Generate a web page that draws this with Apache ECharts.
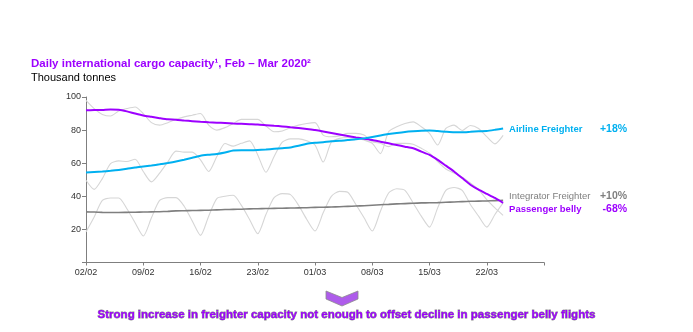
<!DOCTYPE html>
<html>
<head>
<meta charset="utf-8">
<script src="https://cdn.jsdelivr.net/npm/echarts@6/dist/echarts.min.js"></script>
<style>
html, body { margin: 0; padding: 0; background: #fff; }
#chart { width: 693px; height: 332px; }
</style>
</head>
<body>
<div id="chart"></div>
<script>
// Daily categories, 02/02 to 29/03 (axis runs one week past the last data point)
const dates = [
  '02/02','03/02','04/02','05/02','06/02','07/02','08/02',
  '09/02','10/02','11/02','12/02','13/02','14/02','15/02',
  '16/02','17/02','18/02','19/02','20/02','21/02','22/02',
  '23/02','24/02','25/02','26/02','27/02','28/02','29/02',
  '01/03','02/03','03/03','04/03','05/03','06/03','07/03',
  '08/03','09/03','10/03','11/03','12/03','13/03','14/03',
  '15/03','16/03','17/03','18/03','19/03','20/03','21/03',
  '22/03','23/03','24/03','25/03','26/03','27/03','28/03',
  '29/03'
];

// Thousand tonnes per day
const passengerDaily = [
  98, 93, 89.5, 88.5, 91.5, 93, 94,
  90, 84.5, 83, 84.5, 86.5, 88, 89,
  90, 83, 80, 81.5, 84, 86.5, 86.5,
  86.5, 82.5, 79, 79.5, 81.5, 83, 84,
  84.5, 77, 76, 76.5, 78, 78, 77,
  73, 72, 70, 72, 72, 71.5, 69,
  66, 61, 56.5, 54, 51.5, 48, 44,
  38, 33, 28.5
];
const passengerAvg = [
  92, 92.1, 92.2, 92.5, 92.3, 91.3, 90,
  88.8, 88, 87.2, 86.5, 86.3, 85.8, 85.4,
  85, 84.7, 84.5, 84.3, 84, 83.8, 83.6,
  83.4, 83, 82.6, 82.2, 81.7, 81.2, 80.6,
  80, 79.2, 78.3, 77.4, 76.5, 75.6, 74.8,
  74, 73, 72, 71, 70, 69, 67,
  65, 62, 58.5, 55, 51, 47, 44,
  41.5, 39, 36
];
const airlineDaily = [
  49.7, 44.2, 50.7, 59.8, 61.4, 61, 62.4,
  55, 48.7, 54, 60.8, 67.3, 66.7, 66.7,
  62, 55, 64, 71.9, 70.3, 72, 73.5,
  65, 54.5, 64, 72.7, 74.7, 74.7, 73.5,
  71, 60.7, 72.7, 75, 75.5, 75, 74,
  72, 65.8, 79, 82, 84, 85, 82,
  78, 71, 81, 83, 79.8, 82.8, 81,
  76, 71.7, 76.8
];
const airlineAvg = [
  54.4, 54.7, 55, 55.4, 55.9, 56.6, 57.4,
  58, 58.6, 59.3, 60.1, 61, 62.1, 63.3,
  64.5, 65.1, 65.6, 66.5, 67.7, 67.9, 67.9,
  68, 68.3, 68.7, 69.1, 69.5, 70.5, 71.7,
  72.3, 72.7, 73.2, 73.5, 74, 74.4, 75,
  75.8, 76.8, 77.6, 78.3, 78.9, 79.3, 79.6,
  79.7, 79.4, 79, 78.7, 78.7, 79, 79.3,
  79.5, 80.2, 81
];
const integratorDaily = [
  18.5, 27.5, 37.5, 39, 39, 32.5, 24,
  16, 27, 37.5, 39.2, 39.2, 34, 25,
  16.4, 28, 38.6, 40, 40.6, 34.5, 26,
  17.4, 29, 39.2, 41.6, 41, 34.5, 26,
  19, 30, 40, 43, 42.4, 35, 27,
  19, 31, 42, 44.6, 43.6, 36, 28,
  21.4, 33, 43.6, 45.3, 43.6, 35, 28,
  21.4, 29, 36
];
const integratorAvg = [
  30.6, 30.5, 30.3, 30.2, 30.2, 30.3, 30.4,
  30.5, 30.6, 30.7, 30.9, 31.2, 31.3, 31.4,
  31.5, 31.6, 31.8, 32, 32.1, 32.2, 32.4,
  32.5, 32.6, 32.7, 32.8, 32.9, 33, 33.1,
  33.3, 33.4, 33.5, 33.7, 33.9, 34.1, 34.3,
  34.6, 34.9, 35.1, 35.4, 35.6, 35.8, 36,
  36.1, 36.2, 36.4, 36.6, 36.8, 37, 37.1,
  37.2, 37.4, 37.6
];

// Change over the period, shown beside each line
const seriesNames = ['Airline Freighter', 'Integrator Freighter', 'Passenger belly'];
const changes = ['+18%', '+10%', '-68%'];

const yTicks = [20, 40, 60, 80, 100];

const PURPLE = '#9D00FF';
const BLUE = '#00B0F0';
const GREY = '#7F7F7F';
const DAILY = '#D6D6D6';
const FONT = 'Liberation Sans, Arial, sans-serif';

const chart = echarts.init(document.getElementById('chart'), null, { renderer: 'canvas' });

function dailyLine(data) {
  return {
    type: 'line', data: data, symbol: 'none', smooth: 0.25, silent: true,
    lineStyle: { color: DAILY, width: 1.1 }, z: 1
  };
}

function endLabel(idx, color, nameWeight, offset) {
  return {
    show: true,
    distance: 6,
    offset: offset,
    formatter: () => '{n|' + seriesNames[idx] + '}{p|' + changes[idx] + '}',
    rich: {
      n: { width: 91, fontSize: 9.5, fontWeight: nameWeight, color: color, fontFamily: FONT },
      p: { width: 27, align: 'right', fontSize: 10.5, fontWeight: 'bold', color: color, fontFamily: FONT }
    }
  };
}

const option = {
  animation: false,
  textStyle: { fontFamily: FONT },
  title: {
    text: 'Daily international cargo capacity\u00B9, Feb \u2013 Mar 2020\u00B2',
    subtext: 'Thousand tonnes',
    left: 31, top: 58, itemGap: 2, padding: 0,
    textStyle: { fontSize: 11.5, fontWeight: 'bold', color: PURPLE, fontFamily: FONT },
    subtextStyle: { fontSize: 11, color: '#000', fontFamily: FONT }
  },
  grid: { left: 86, right: 149, top: 97, bottom: 69.5, containLabel: false },
  xAxis: {
    type: 'category', data: dates, boundaryGap: false,
    axisLine: { lineStyle: { color: GREY, width: 1 } },
    axisTick: { show: true, interval: 6, length: 3, lineStyle: { color: GREY } },
    axisLabel: {
      interval: 6, fontSize: 9, color: '#333', margin: 6,
      formatter: (v, i) => (i === dates.length - 1 ? '' : v)
    },
    splitLine: { show: false }
  },
  yAxis: {
    type: 'value', min: 0, max: 100, interval: 20,
    axisLine: { show: true, lineStyle: { color: GREY, width: 1 } },
    axisTick: { show: true, length: 4, lineStyle: { color: GREY } },
    axisLabel: {
      fontSize: 9, color: '#333', margin: 5,
      formatter: v => (yTicks.indexOf(v) >= 0 ? String(v) : '')
    },
    splitLine: { show: false }
  },
  series: [
    dailyLine(passengerDaily),
    dailyLine(airlineDaily),
    dailyLine(integratorDaily),
    {
      name: seriesNames[1], type: 'line', data: integratorAvg, symbol: 'none', smooth: 0.2,
      lineStyle: { color: GREY, width: 1.6 }, z: 3,
      endLabel: endLabel(1, GREY, 'normal', [0, -4])
    },
    {
      name: seriesNames[2], type: 'line', data: passengerAvg, symbol: 'none', smooth: 0.2,
      lineStyle: { color: PURPLE, width: 2 }, z: 4,
      endLabel: endLabel(2, PURPLE, 'bold', [0, 6.5])
    },
    {
      name: seriesNames[0], type: 'line', data: airlineAvg, symbol: 'none', smooth: 0.2,
      lineStyle: { color: BLUE, width: 2 }, z: 5,
      endLabel: endLabel(0, BLUE, 'bold', [0, 0.5])
    }
  ],
  graphic: [
    {
      type: 'polygon', silent: true,
      shape: { points: [[326, 291], [342, 297.5], [358, 291], [358, 299], [342, 306], [326, 299]] },
      style: { fill: '#AE5CEB' }
    },
    {
      type: 'text', left: 'center', top: 308.5, silent: true,
      style: {
        text: 'Strong increase in freighter capacity not enough to offset decline in passenger belly flights',
        fontSize: 11.5, fontWeight: 'bold', fill: PURPLE, fontFamily: FONT
      }
    }
  ]
};

chart.setOption(option);

// Short leader strokes from the line ends to the two stacked labels
const last = integratorAvg.length - 1;
const pInt = chart.convertToPixel({ seriesIndex: 3 }, [last, integratorAvg[last]]);
const pPas = chart.convertToPixel({ seriesIndex: 4 }, [last, passengerAvg[last]]);
chart.setOption({
  graphic: [
    {
      type: 'line', silent: true,
      shape: { x1: pInt[0] + 1, y1: pInt[1] + 1, x2: pInt[0] + 5, y2: pInt[1] - 6 },
      style: { stroke: '#8c8c8c', lineWidth: 0.8 }
    },
    {
      type: 'line', silent: true,
      shape: { x1: pPas[0] + 2, y1: pPas[1] + 1.5, x2: pPas[0] + 6, y2: pPas[1] + 6 },
      style: { stroke: '#8c8c8c', lineWidth: 0.8 }
    }
  ]
});
</script>
</body>
</html>
